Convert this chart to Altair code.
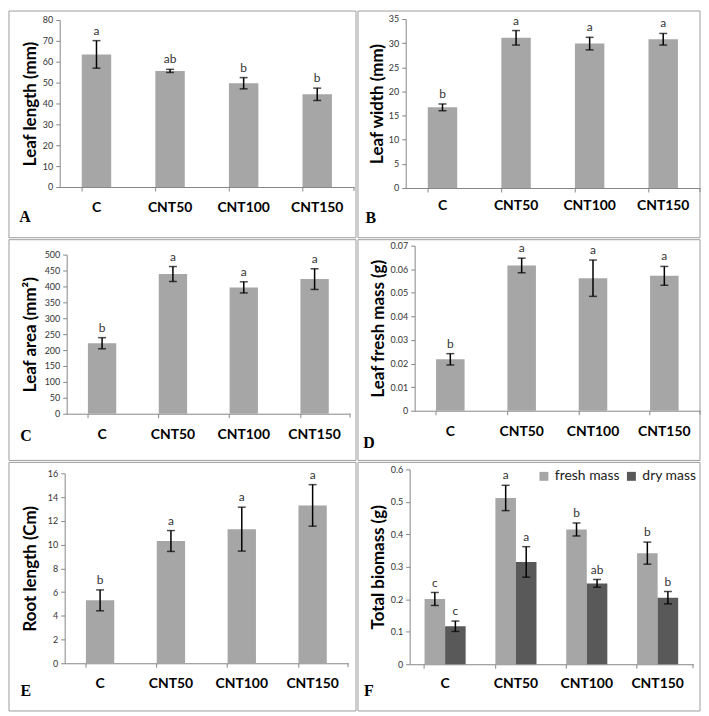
import altair as alt
import pandas as pd

# ---------------- data ----------------
categories = ["C", "CNT50", "CNT100", "CNT150"]

leaf_length_mean = [63.5, 55.6, 49.7, 44.4]
leaf_length_se = [6.6, 0.75, 2.7, 2.95]
leaf_length_sig = ["a", "ab", "b", "b"]
leaf_length_ticks = [0, 10, 20, 30, 40, 50, 60, 70, 80]

leaf_width_mean = [16.7, 31.1, 29.9, 30.8]
leaf_width_se = [0.7, 1.5, 1.3, 1.2]
leaf_width_sig = ["b", "a", "a", "a"]
leaf_width_ticks = [0, 5, 10, 15, 20, 25, 30, 35]

leaf_area_mean = [221.5, 439, 397, 423]
leaf_area_se = [17.5, 23.5, 17.5, 32.5]
leaf_area_sig = ["b", "a", "a", "a"]
leaf_area_ticks = [0, 50, 100, 150, 200, 250, 300, 350, 400, 450, 500]

leaf_fresh_mean = [0.0218, 0.0616, 0.0562, 0.0572]
leaf_fresh_se = [0.0024, 0.0031, 0.0077, 0.0040]
leaf_fresh_sig = ["b", "a", "a", "a"]
leaf_fresh_ticks = [0, 0.01, 0.02, 0.03, 0.04, 0.05, 0.06, 0.07]

root_length_mean = [5.3, 10.3, 11.3, 13.3]
root_length_se = [0.88, 0.88, 1.85, 1.75]
root_length_sig = ["b", "a", "a", "a"]
root_length_ticks = [0, 2, 4, 6, 8, 10, 12, 14, 16]

series_names = ["fresh mass", "dry mass"]
biomass_fresh_mean = [0.201, 0.512, 0.415, 0.342]
biomass_fresh_se = [0.020, 0.039, 0.020, 0.034]
biomass_fresh_sig = ["c", "a", "b", "b"]
biomass_dry_mean = [0.117, 0.315, 0.249, 0.205]
biomass_dry_se = [0.016, 0.047, 0.012, 0.019]
biomass_dry_sig = ["c", "a", "ab", "b"]
biomass_ticks = [0, 0.1, 0.2, 0.3, 0.4, 0.5, 0.6]

# ---------------- style ----------------
FONT = "Lato"
LIGHT = "#a6a6a6"
DARK = "#595959"
AXIS_GRAY = "#868686"
BORDER = "#9c9c9c"


def simple_df(mean, se, sig):
    return pd.DataFrame({"cat": categories, "mean": mean, "se": se, "sig": sig})


def make_panel(df, p, grouped=False):
    # Lc: column left inset (panel border -> view origin), xo: extra shift of y axis
    Lc, xo, W = p["Lc"], p["xo"], p["W"]
    Tr, top, bot = p["Tr"], p["top"], p["bot"]
    H = bot - Tr              # view height (x axis at bottom)
    ytop = top - Tr           # pixel row of the y maximum inside the view
    one = pd.DataFrame({"k": [0]})
    cats = pd.DataFrame({"cat": categories})

    if grouped:
        xscale = alt.Scale(domain=categories, paddingInner=0.42, paddingOuter=0.21,
                           range=[xo, xo + W])
    else:
        xscale = alt.Scale(domain=categories, paddingInner=0.6, paddingOuter=0.3,
                           range=[xo, xo + W])
    xaxis = alt.Axis(title=None, labels=False, bandPosition=0, tickSize=4,
                     tickColor=AXIS_GRAY, domainColor=AXIS_GRAY, tickWidth=1,
                     domainWidth=1)
    x = alt.X("cat:N", scale=xscale, axis=xaxis, sort=categories)

    yscale = alt.Scale(domain=[0, p["ymax"]], nice=False, range=[H, ytop])
    yaxis = alt.Axis(title=p["ytitle"], values=p["ticks"], format="~r", grid=False,
                     offset=-xo,
                     tickSize=4, tickColor=AXIS_GRAY, domainColor=AXIS_GRAY,
                     labelFont=FONT, labelFontSize=9, labelColor="#333333",
                     labelPadding=3, titleFont=FONT, titleFontSize=17,
                     titleFontWeight="bold", titleColor="#000000",
                     titleX=p["tx"], titleBaseline="middle")

    xoff = None
    if grouped:
        xoff = alt.XOffset("series:N", sort=series_names,
                           scale=alt.Scale(domain=series_names, paddingInner=0, paddingOuter=0))

    base = alt.Chart(df).transform_calculate(
        hi="datum.mean + datum.se", lo="datum.mean - datum.se")

    border = alt.Chart(one).mark_rect(fillOpacity=0, stroke=BORDER, strokeWidth=1).encode(
        x=alt.value(-Lc), x2=alt.value(p["cw"] - Lc),
        y=alt.value(-Tr), y2=alt.value(p["rh"] - Tr))

    bar_enc = dict(x=x, y=alt.Y("mean:Q", scale=yscale, axis=yaxis))
    if grouped:
        bar_enc["xOffset"] = xoff
        bar_enc["color"] = alt.Color(
            "series:N", sort=series_names,
            scale=alt.Scale(domain=series_names, range=[LIGHT, DARK]),
            legend=alt.Legend(title=None, orient="none", legendX=p["lx"], legendY=p["ly"],
                              direction="horizontal", symbolType="square", symbolSize=81,
                              symbolStrokeWidth=0, labelFont=FONT, labelFontSize=14,
                              labelColor="#222222", columnPadding=4, labelOffset=4,
                              padding=0))
        bars = base.mark_bar().encode(**bar_enc)
    else:
        bars = base.mark_bar(color=LIGHT).encode(**bar_enc)

    def with_xo(enc):
        if grouped:
            enc["xOffset"] = xoff
        return enc

    rules = base.mark_rule(color="black", strokeWidth=1.5).encode(**with_xo(dict(
        x=x, y=alt.Y("lo:Q", scale=yscale, axis=yaxis), y2="hi:Q")))
    cap_hi = base.mark_tick(color="black", size=8, thickness=1.5).encode(**with_xo(dict(
        x=x, y=alt.Y("hi:Q", scale=yscale, axis=yaxis))))
    cap_lo = base.mark_tick(color="black", size=8, thickness=1.5).encode(**with_xo(dict(
        x=x, y=alt.Y("lo:Q", scale=yscale, axis=yaxis))))
    sig = base.mark_text(font=FONT, fontSize=12, color="#333333", baseline="bottom",
                         dy=-3).encode(**with_xo(dict(
        x=x, y=alt.Y("hi:Q", scale=yscale, axis=yaxis), text="sig:N")))

    cat_labels = alt.Chart(cats).mark_text(font=FONT, fontSize=14, fontWeight="bold",
                                           color="#000000", baseline="middle").encode(
        x=x, y=alt.value(H + p["cy"]), text="cat:N")
    end_tick = alt.Chart(one).mark_rule(color=AXIS_GRAY, strokeWidth=1).encode(
        x=alt.value(xo + W), y=alt.value(H), y2=alt.value(H + 4))
    letter = alt.Chart(one).mark_text(font="Liberation Serif", fontSize=16,
                                      fontWeight="bold", color="#000000",
                                      baseline="middle").encode(
        x=alt.value(xo + p["ltx"]), y=alt.value(H + p["lty"]), text=alt.value(p["letter"]))

    return alt.layer(border, bars, rules, cap_hi, cap_lo, sig, cat_labels, end_tick,
                     letter).properties(width=xo + W, height=H)


# layout (pixels): Lc column inset, xo axis shift, Tr row inset, top/bot plot edges in row
panels_cfg = [
    dict(letter="A", ytitle="Leaf length (mm)", ymax=80, ticks=leaf_length_ticks,
         Lc=48, xo=3, W=296, Tr=8, top=9, bot=177, cw=349, rh=228,
         tx=-29, ltx=-35, lty=30, cy=21),
    dict(letter="B", ytitle="Leaf width (mm)", ymax=35, ticks=leaf_width_ticks,
         Lc=48, xo=0, W=296, Tr=8, top=8, bot=178, cw=344, rh=228,
         tx=-28, ltx=-35, lty=30, cy=18),
    dict(letter="C", ytitle="Leaf area (mm²)", ymax=500, ticks=leaf_area_ticks,
         Lc=48, xo=10, W=285, Tr=6, top=15, bot=175, cw=349, rh=222,
         tx=-36, ltx=-41, lty=22, cy=21),
    dict(letter="D", ytitle="Leaf fresh mass (g)", ymax=0.07, ticks=leaf_fresh_ticks,
         Lc=48, xo=9, W=287, Tr=6, top=6, bot=172, cw=344, rh=222,
         tx=-36, ltx=-46, lty=33, cy=21),
    dict(letter="E", ytitle="Root length (Cm)", ymax=16, ticks=root_length_ticks,
         Lc=48, xo=8, W=285, Tr=7, top=11, bot=202, cw=349, rh=250,
         tx=-34, ltx=-39, lty=28, cy=21),
    dict(letter="F", ytitle="Total  biomass (g)", ymax=0.6, ticks=biomass_ticks,
         Lc=48, xo=4, W=285, Tr=7, top=7, bot=203, cw=344, rh=250,
         tx=-31, ltx=-41, lty=27, cy=20, lx=132, ly=0),
]

df_a = simple_df(leaf_length_mean, leaf_length_se, leaf_length_sig)
df_b = simple_df(leaf_width_mean, leaf_width_se, leaf_width_sig)
df_c = simple_df(leaf_area_mean, leaf_area_se, leaf_area_sig)
df_d = simple_df(leaf_fresh_mean, leaf_fresh_se, leaf_fresh_sig)
df_e = simple_df(root_length_mean, root_length_se, root_length_sig)
df_f = pd.concat([
    pd.DataFrame({"cat": categories, "series": series_names[0], "mean": biomass_fresh_mean,
                  "se": biomass_fresh_se, "sig": biomass_fresh_sig}),
    pd.DataFrame({"cat": categories, "series": series_names[1], "mean": biomass_dry_mean,
                  "se": biomass_dry_se, "sig": biomass_dry_sig}),
], ignore_index=True)

panels = [
    make_panel(df_a, panels_cfg[0]),
    make_panel(df_b, panels_cfg[1]),
    make_panel(df_c, panels_cfg[2]),
    make_panel(df_d, panels_cfg[3]),
    make_panel(df_e, panels_cfg[4]),
    make_panel(df_f, panels_cfg[5], grouped=True),
]

chart = alt.concat(*panels, columns=2, spacing=0, align="each", bounds="full").properties(
    padding=0, background="white"
).configure_view(strokeWidth=0).resolve_scale(x="independent", y="independent", color="independent")

chart.save("out.html", embed_options={"renderer": "svg", "actions": False})
